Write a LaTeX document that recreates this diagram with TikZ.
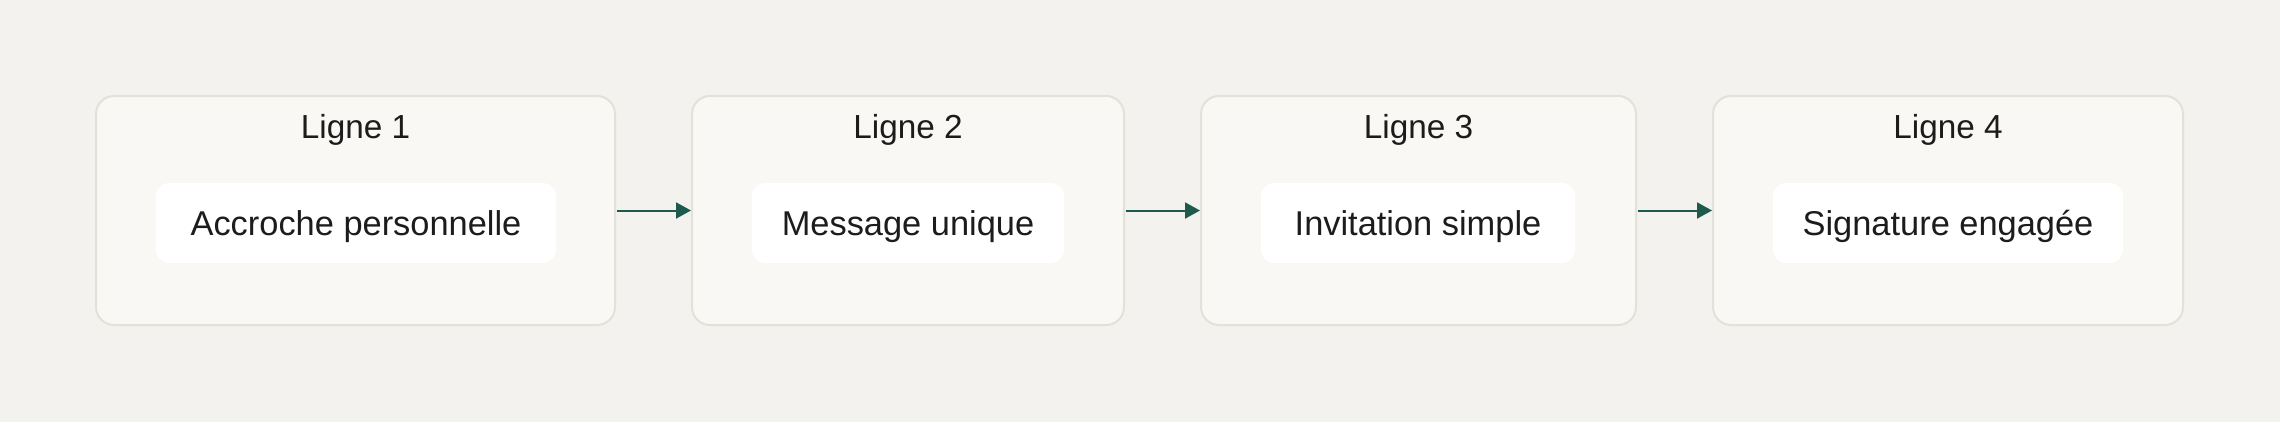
\documentclass[tikz,border=0pt]{standalone}
\usepackage{fontspec}
\setmainfont{Liberation Sans}
\usetikzlibrary{arrows.meta}
\definecolor{bgc}{HTML}{F3F2EE}
\definecolor{boxfill}{HTML}{F9F8F5}
\definecolor{boxline}{HTML}{E2E1DA}
\definecolor{arrc}{HTML}{1D5A4D}
\definecolor{txt}{HTML}{1C1C1C}
\tikzset{
  outerbox/.style={draw=boxline, fill=boxfill, line width=1.5pt, rounded corners=13.5pt, minimum height=171.75pt, inner sep=0pt},
  innerbox/.style={fill=white, rounded corners=10pt, minimum height=60pt, inner sep=0pt, text height=18.5pt, text depth=0pt, text=txt, font=\fontsize{25.8}{30}\selectfont},
  titletext/.style={anchor=base, inner sep=0pt, text=txt, font=\fontsize{25}{30}\selectfont},
  arr/.style={draw=arrc, line width=1.5pt, -{Triangle[length=11.25pt, width=12pt]}, shorten <=1pt}
}
\begin{document}
\begin{tikzpicture}[x=0.75pt, y=-0.75pt]
\useasboundingbox (0,0) rectangle (2280,422);
\fill[bgc] (0,0) rectangle (2280,422);
% outer boxes
\node[outerbox, minimum width=389.25pt] (b1) at (355.5,210.5) {};
\node[outerbox, minimum width=324pt] (b2) at (908,210.5) {};
\node[outerbox, minimum width=326.25pt] (b3) at (1418.5,210.5) {};
\node[outerbox, minimum width=352.5pt] (b4) at (1948,210.5) {};
% titles
\node[titletext] (t1) at (355.5,138) {Ligne 1};
\node[titletext] (t2) at (908,138) {Ligne 2};
\node[titletext] (t3) at (1418.5,138) {Ligne 3};
\node[titletext] (t4) at (1948,138) {Ligne 4};
% inner boxes
\node[innerbox, minimum width=300pt] (i1) at (356,223) {Accroche personnelle};
\node[innerbox, minimum width=234pt] (i2) at (908,223) {Message unique};
\node[innerbox, minimum width=235.5pt] (i3) at (1418,223) {Invitation simple};
\node[innerbox, minimum width=262.5pt] (i4) at (1948,223) {Signature engagée};
% arrows
\draw[arr] (b1.east) -- (b2.west);
\draw[arr] (b2.east) -- (b3.west);
\draw[arr] (b3.east) -- (b4.west);
\end{tikzpicture}
\end{document}
